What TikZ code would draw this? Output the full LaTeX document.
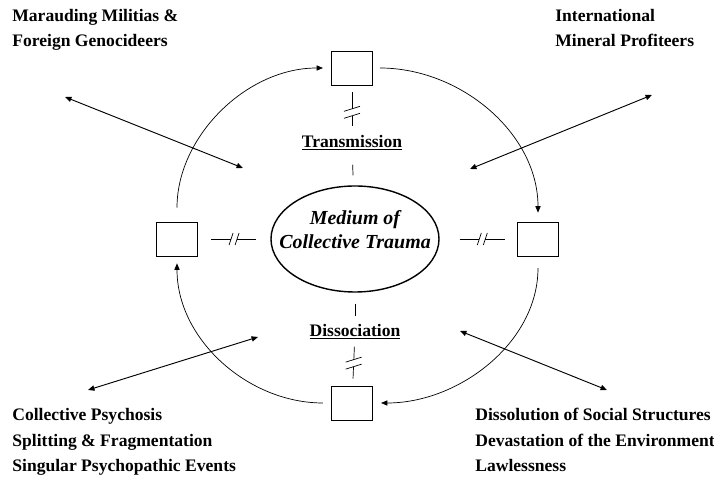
\documentclass[tikz,border=0pt]{standalone}
\usepackage{fontspec}
\setmainfont{Liberation Serif}
\usetikzlibrary{arrows.meta,shapes.geometric}

\begin{document}
\begin{tikzpicture}[x=0.03cm, y=0.03cm, line width=0.6pt,
		box/.style = {draw, minimum width=1.23cm, minimum height=1.02cm, inner sep=0pt},
		lbl/.style = {font=\fontsize{15}{22}\selectfont\bfseries, align=left, inner sep=0pt},
		tip/.style = {-{Triangle[length=5.5pt,width=4.5pt]}},
		dbl/.style = {{Triangle[length=5.5pt,width=4.5pt]}-{Triangle[length=5.5pt,width=4.5pt]}, line width=0.8pt},
		hbrk/.pic = {\fill[white] (-3,-2) rectangle (3,2);
			\draw[shorten <=0pt, shorten >=0pt] (-5,-6) -- (-1,6) (1,-6) -- (5,6);},
		vbrk/.pic = {\fill[white] (-2,-3.5) rectangle (2,3.5);
			\draw[shorten <=0pt, shorten >=0pt] (-8,-6) -- (8,-1) (-8,1) -- (8,6);}]
	\useasboundingbox (0,0) rectangle (714,477);

	\node[box] (T) at (352,409) {};
	\node[box] (L) at (177,238) {};
	\node[box] (R) at (538,238) {};
	\node[box] (B) at (352,74) {};
	\node[draw, ellipse, line width=1.2pt, minimum width=5.04cm, minimum height=3.18cm,
		inner xsep=-15pt, inner ysep=0pt,
		font=\fontsize{17}{20.5}\selectfont\bfseries\itshape, align=center] (E) at (355,238)
		{Medium of\\Collective Trauma\\[-4pt]};
	\node[lbl] (Tr) at (352,334) {\underline{Transmission}};
	\node[lbl] (Di) at (355,145) {\underline{Dissociation}};

	\draw[shorten <=6pt, shorten >=8pt] (T) -- (Tr) pic[pos=0.54]{vbrk};
	\draw[shorten <=12pt, shorten >=8.5pt] (Tr) -- (E);
	\draw[shorten <=9.4pt, shorten >=7pt] (E) -- (Di);
	\draw[shorten <=6pt, shorten >=6pt] (Di) -- (B) pic[pos=0.51]{vbrk};
	\draw[shorten <=11.5pt, shorten >=12pt] (L) -- (E) pic[pos=0.5]{hbrk};
	\draw[shorten <=17pt, shorten >=10.7pt] (E) -- (R) pic[pos=0.55]{hbrk};

	\draw[tip, shorten <=12pt, shorten >=7pt] (L) to[out=90, in=180] (T);
	\draw[tip, shorten <=6pt, shorten >=7.7pt] (T) to[out=0, in=90] (R);
	\draw[tip, shorten <=10pt, shorten >=7pt] (R) to[out=-90, in=0] (B);
	\draw[tip, shorten <=7pt, shorten >=6pt] (B) to[out=180, in=-90] (L);

	\node[lbl, anchor=base west] (mil) at (12,430) {Marauding Militias \&\\Foreign Genocideers};
	\node[lbl, anchor=base west] (min) at (555,430) {International\\Mineral Profiteers};
	\node[lbl, anchor=base west] (psy) at (12,5) {Collective Psychosis\\Splitting \& Fragmentation\\Singular Psychopathic Events};
	\node[lbl, anchor=base west] (soc) at (475,5) {Dissolution of Social Structures\\Devastation of the Environment\\Lawlessness};

	\path[shape=coordinate]
	(65,380) coordinate(mil1) (243,309) coordinate(mil2)
	(652,382) coordinate(min1) (470,308) coordinate(min2)
	(88,87) coordinate(psy1) (258,140) coordinate(psy2)
	(607,87) coordinate(soc1) (460,146) coordinate(soc2);

	\draw[dbl] (mil1) -- (mil2);
	\draw[dbl] (min1) -- (min2);
	\draw[dbl] (psy1) -- (psy2);
	\draw[dbl] (soc1) -- (soc2);
\end{tikzpicture}
\end{document}
